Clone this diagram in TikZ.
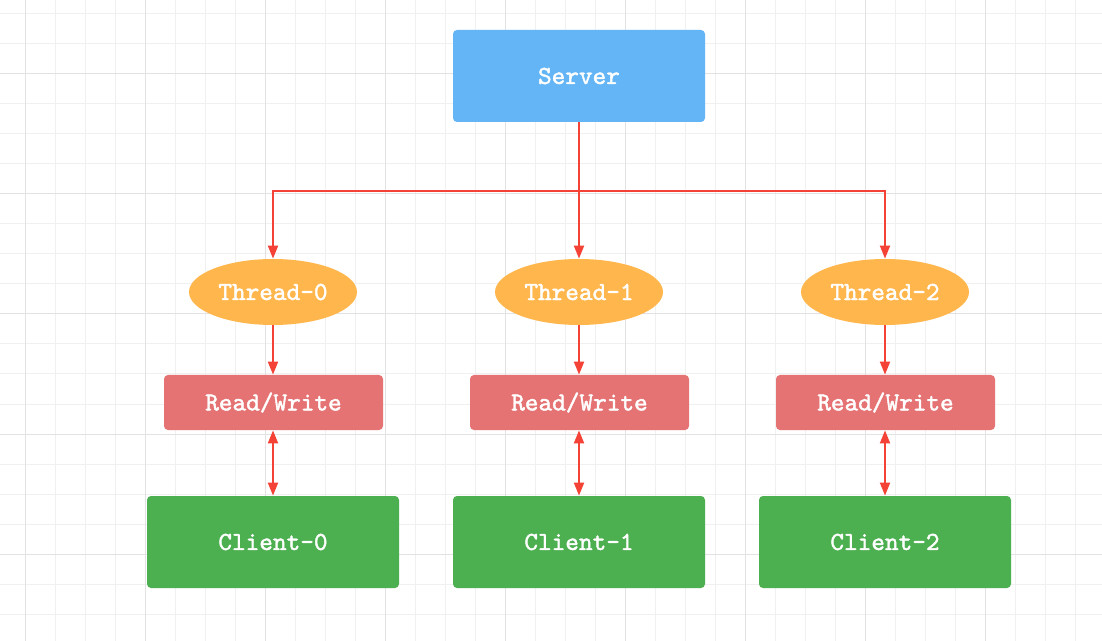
\documentclass[tikz,border=0pt]{standalone}
\usepackage{fontspec}
\newfontfamily\lblfont[Extension=.otf,FakeBold=1.6]{lmmono10-regular}
\usepackage{tikz}
\usetikzlibrary{shapes.geometric,arrows.meta}

\definecolor{srvblue}{HTML}{64B5F6}
\definecolor{throrange}{HTML}{FFB74D}
\definecolor{rwred}{HTML}{E57373}
\definecolor{cligreen}{HTML}{4CAF50}
\definecolor{arrred}{HTML}{F44336}
\definecolor{gridminor}{HTML}{F0F0F0}
\definecolor{gridmajor}{HTML}{E2E2E2}

\begin{document}
\begin{tikzpicture}[x=0.5pt,y=-0.5pt,
  lbl/.style={text=white,font=\lblfont\fontsize{13pt}{15pt}\selectfont,inner sep=0pt},
  srvbox/.style={lbl,fill=srvblue,rounded corners=2pt,minimum width=126pt,minimum height=46pt},
  thr/.style={lbl,ellipse,fill=throrange,minimum width=84pt,minimum height=33pt},
  rwbox/.style={lbl,fill=rwred,rounded corners=2pt,minimum width=109.5pt,minimum height=27.5pt},
  clibox/.style={lbl,fill=cligreen,rounded corners=2pt,minimum width=126pt,minimum height=46pt},
  arr/.style={arrred,line width=1pt,-{Triangle[length=6.5pt,width=5pt]}},
  dblarr/.style={arrred,line width=1pt,{Triangle[length=6.5pt,width=5pt]}-{Triangle[length=6.5pt,width=5pt]}}]

\useasboundingbox (0,0) rectangle (1102,641);
\fill[white](0,0) rectangle (1102,641);

% background grid
\foreach \gx in {25,55,...,1100} \draw[gridminor,line width=0.5pt](\gx,0)--(\gx,641);
\foreach \gy in {14,44,...,640} \draw[gridminor,line width=0.5pt](0,\gy)--(1102,\gy);
\foreach \gx in {25,145,...,1100} \draw[gridmajor,line width=0.5pt](\gx,0)--(\gx,641);
\foreach \gy in {74,194,...,640} \draw[gridmajor,line width=0.5pt](0,\gy)--(1102,\gy);

\node[srvbox](server) at (579,76) {Server};

\node[thr](t0) at (273,292) {Thread-0};
\node[thr](t1) at (579,292) {Thread-1};
\node[thr](t2) at (885,292) {Thread-2};

\node[rwbox](rw0) at (273.5,402.5) {Read/Write};
\node[rwbox](rw1) at (579.5,402.5) {Read/Write};
\node[rwbox](rw2) at (885.5,402.5) {Read/Write};

\node[clibox](c0) at (273,542) {Client-0};
\node[clibox](c1) at (579,542) {Client-1};
\node[clibox](c2) at (885,542) {Client-2};

\coordinate (bus) at (579,191);
\draw[arr](server.south)--(bus)-|(t0.north);
\draw[arr](server.south)--(t1.north);
\draw[arr](bus)-|(t2.north);

\draw[arr](t0.south)--(rw0.north -| t0.south);
\draw[arr](t1.south)--(rw1.north -| t1.south);
\draw[arr](t2.south)--(rw2.north -| t2.south);

\draw[dblarr](rw0.south -| c0.north)--(c0.north);
\draw[dblarr](rw1.south -| c1.north)--(c1.north);
\draw[dblarr](rw2.south -| c2.north)--(c2.north);

\end{tikzpicture}
\end{document}
